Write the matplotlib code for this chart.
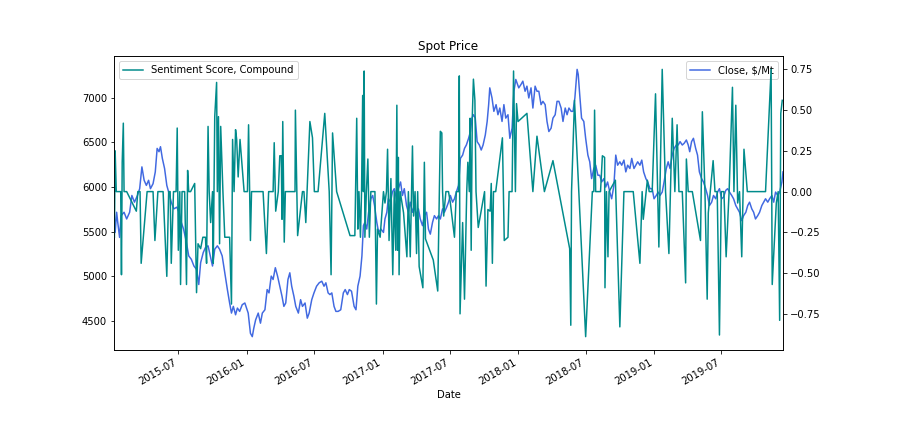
import matplotlib
matplotlib.use("Agg")
import matplotlib.pyplot as plt
import matplotlib.dates as mdates
import numpy as np

# day numbers counted from 2015-01-01
blue_day = [8, 11, 15, 18, 23, 27, 35, 42, 50, 56, 63, 71, 77, 83, 89, 95, 101, 106, 113, 119,
            124, 129, 133, 138, 144, 150, 155, 162, 169, 177, 183, 189, 195, 202, 209, 216, 223, 230, 236, 241,
            248, 254, 261, 267, 273, 279, 286, 292, 299, 306, 313, 319, 324, 329, 335, 340, 346, 353, 360,
            369, 375, 380, 384, 389, 396, 402, 407, 414, 420, 425, 431, 436, 442, 448, 454, 460, 465, 470,
            476, 481, 486, 492, 497, 504, 510, 515, 522, 528, 533, 540, 546, 553, 560, 567, 573, 578, 584,
            589, 594, 600, 605, 611, 618, 625, 630, 636, 641, 647, 654, 659, 664, 670, 675, 679, 683, 688,
            693, 699, 704, 709, 715, 720, 726,
            733, 737, 742, 746, 752, 757, 762, 768, 773, 779, 784, 789, 795, 800, 805, 811, 816, 822, 827,
            832, 838, 843, 849, 854, 859, 865, 870, 876, 881, 886, 892, 897, 903, 908, 913, 919, 924, 929,
            935, 940, 946, 951, 956, 962, 967, 971, 975, 980, 985, 991, 996, 1001, 1007, 1012, 1016, 1019,
            1025, 1030, 1036, 1041, 1046, 1052, 1057, 1062, 1068, 1073, 1079, 1084, 1089,
            1097, 1103, 1108, 1114, 1119, 1124, 1130, 1135, 1141, 1146, 1151, 1157, 1162, 1168, 1173, 1178,
            1184, 1189, 1195, 1200, 1205, 1211, 1216, 1222, 1227, 1232, 1238, 1243, 1248, 1254, 1257, 1261,
            1266, 1272, 1277, 1283, 1288, 1293, 1299, 1304, 1310, 1315, 1320, 1326, 1331, 1336, 1342, 1347,
            1353, 1358, 1363, 1369, 1374, 1380, 1385, 1390, 1396, 1401, 1407, 1412, 1417, 1423, 1428, 1433,
            1439, 1444, 1450,
            1456, 1461, 1467, 1472, 1477, 1483, 1488, 1494, 1499, 1504, 1510, 1515, 1521, 1526, 1531, 1537,
            1542, 1548, 1553, 1557, 1562, 1567, 1573, 1578, 1583, 1589, 1594, 1600, 1605, 1610, 1616, 1621,
            1627, 1632, 1637, 1643, 1648, 1654, 1659, 1664, 1670, 1675, 1681, 1686, 1691, 1697, 1702, 1708,
            1713, 1718, 1724, 1729, 1734, 1740, 1745, 1751, 1756, 1761, 1767, 1772, 1778, 1783, 1788, 1794,
            1799, 1805, 1808]
blue_close = [5754, 5490, 5716, 5603, 5434, 5678, 5716, 5641, 5716, 5904, 5829, 5904, 5980, 6224, 6074, 6017, 6074, 5980, 6036, 6168,
              6431, 6394, 6450, 6319, 6206, 6017, 5942, 5829, 5754, 5773, 5716, 5603, 5528, 5396, 5227, 5189, 5114, 5076, 4907, 5151,
              5264, 5321, 5340, 5227, 5114, 5302, 5340, 5302, 5227, 5038, 4850, 4700, 4587, 4662, 4568, 4643, 4606, 4681, 4700,
              4587, 4361, 4323, 4417, 4511, 4587, 4474, 4587, 4624, 4850, 4813, 5001, 4963, 5095, 5001, 4888, 4775, 4662, 4700,
              4963, 5038, 4888, 4775, 4662, 4587, 4737, 4662, 4700, 4530, 4587, 4737, 4813, 4888, 4926, 4944, 4888, 4926, 4813,
              4794, 4813, 4662, 4606, 4606, 4624, 4813, 4850, 4794, 4850, 4832, 4662, 4624, 4888, 5001, 5227, 5566, 5603, 5528,
              5716, 5867, 5904, 5791, 5603, 5490, 5528,
              5490, 5641, 5716, 5867, 5829, 5942, 5980, 5867, 5980, 6055, 5904, 5980, 5791, 5716, 5829, 5716, 5791, 5678, 5754,
              5641, 5566, 5678, 5716, 5528, 5471, 5603, 5678, 5641, 5678, 5641, 5754, 5716, 5773, 5829, 5904, 5829, 5867, 5942,
              6017, 6319, 6356, 6431, 6469, 6544, 6620, 6770, 6808, 6770, 6507, 6469, 6413, 6469, 6582, 6733, 6921, 7109,
              6996, 6846, 6921, 6808, 6883, 6733, 6921, 6770, 6808, 6544, 6657, 7071, 7203,
              7109, 7147, 7184, 7071, 7128, 6996, 7109, 6883, 7128, 7071, 7071, 6921, 6958, 6921, 6733, 6620,
              6657, 6770, 6808, 6958, 6958, 6883, 6733, 6883, 6808, 6883, 6846, 6846, 6996, 7316, 7260, 7034,
              6770, 6733, 6544, 6356, 6281, 6093, 6206, 6243, 6130, 6130, 6055, 6093, 5998, 6055, 5942, 5867,
              6017, 6356, 6243, 6281, 6243, 6300, 6168, 6243, 6206, 6319, 6206, 6243, 6281, 6243, 6300, 6168,
              6093, 6055, 5980,
              5980, 5867, 5904, 5942, 5904, 5942, 6055, 6206, 6281, 6206, 6356, 6431, 6469, 6469, 6507, 6469,
              6488, 6525, 6469, 6394, 6507, 6544, 6431, 6356, 6168, 6093, 6055, 5980, 5904, 5791, 5829, 5904,
              5867, 5942, 5980, 5867, 5886, 5961, 5980, 5942, 5904, 5867, 5791, 5754, 5716, 5622, 5678, 5716,
              5791, 5829, 5754, 5716, 5641, 5678, 5716, 5791, 5829, 5867, 5829, 5867, 5904, 5829, 5942, 5904,
              5942, 6055, 6168]

teal_day = [9, 11, 14, 26, 28, 30, 33, 35, 42, 68, 72, 78, 81, 97, 113, 118, 126, 140, 150, 155,
            159, 162, 168, 175, 178, 181, 185, 187, 191, 198, 203, 206, 209, 214, 225, 230, 234, 241, 247, 254,
            257, 261, 264, 268, 273, 275, 279, 284, 286, 289, 292, 295, 301, 306, 319, 324, 327, 331, 335, 338,
            342, 347, 358,
            367, 370, 375, 378, 409, 418, 424, 436, 439, 443, 450, 454, 458, 460, 462, 466, 469, 495, 496, 502,
            515, 519, 524, 535, 542, 547, 557, 575, 587, 592, 596, 607, 643, 656, 661, 664, 667, 671, 674, 677,
            679, 681, 683, 687, 691, 695, 699, 710, 714, 717, 724,
            733, 737, 741, 744, 748, 753, 758, 762, 766, 769, 771, 773, 775, 778, 787, 796, 800, 805, 811, 814,
            818, 822, 825, 829, 839, 843, 846, 867, 879, 886, 890, 892, 895, 901, 908, 913, 924, 929, 935, 937,
            939, 946, 951, 957, 960, 964, 966, 969, 972, 975, 979, 982, 988, 1005, 1009, 1014, 1020, 1023, 1026,
            1029, 1035, 1053, 1058, 1068, 1071, 1079, 1083, 1088, 1091,
            1095, 1119, 1135, 1146, 1166, 1189, 1234, 1237, 1239, 1247, 1277, 1295, 1299, 1301, 1304, 1317,
            1322, 1328, 1329, 1333, 1337, 1340, 1357, 1369, 1380, 1405, 1423, 1429, 1432, 1443, 1448,
            1456, 1465, 1474, 1483, 1492, 1501, 1510, 1517, 1523, 1528, 1537, 1546, 1548, 1553, 1564, 1586,
            1591, 1598, 1604, 1607, 1620, 1625, 1631, 1637, 1642, 1649, 1655, 1663, 1672, 1676, 1681, 1686,
            1691, 1697, 1703, 1712, 1761, 1776, 1779, 1790, 1795, 1799, 1802, 1806]
teal_score = [-0.28, 0.25, 0, 0, -0.51, 0.18, 0.42, 0, 0, -0.12, 0, 0, -0.44, 0, 0, -0.30, 0, 0, -0.52, 0,
              0, -0.44, 0, 0, 0.39, -0.36, 0, -0.57, 0, 0, -0.57, 0.13, 0, 0, 0.05, -0.62, -0.32, -0.35, -0.28, -0.28,
              -0.44, 0.40, 0, -0.19, 0, -0.44, 0.46, 0.67, 0, 0.46, -0.32, 0.40, 0, -0.28, -0.28, -0.69, 0.32, 0, 0.38, 0.32,
              0.09, 0.32, 0,
              0, 0.41, -0.30, 0, 0, -0.38, 0, 0, 0.30, -0.12, 0, 0.22, 0.22, -0.17, 0.43, -0.31, 0, 0, 0.50, -0.27,
              0, 0, -0.19, 0.43, 0.33, 0, 0, 0.48, 0, -0.51, 0.36, 0, -0.27, -0.27, 0.45, -0.23, 0, -0.28, 0, 0.59,
              0, 0.74, -0.28, 0, 0.20, -0.28, 0, 0, -0.69, -0.23, -0.28,
              0, -0.07, 0, 0.26, -0.30, 0.08, -0.51, 0, -0.36, 0.53, -0.36, 0.21, -0.51, 0, -0.13, -0.40, 0, -0.40, 0.28, -0.15,
              0, -0.38, 0, -0.46, -0.59, 0.18, -0.29, -0.42, -0.61, 0.37, 0.36, 0, -0.15, 0, 0, -0.07, -0.28, 0, 0, 0.71,
              -0.75, -0.19, -0.66, 0, 0.18, 0, 0.45, -0.36, 0.46, 0.69, 0.56, 0, -0.22, 0, -0.58, -0.11, -0.12, 0.05, -0.44,
              0, 0, 0.33, -0.30, -0.28, 0, 0, 0.74, 0, 0.54,
              0.43, 0.48, 0, 0.34, 0, 0.19, -0.35, -0.82, 0, 0.56, -0.89, 0, 0, 0.50, 0, 0,
              0.22, 0.21, -0.59, 0, -0.40, 0, 0.07, -0.83, 0, 0, -0.44, 0, -0.17, 0.07, 0,
              0, 0.60, -0.34, 0.75, 0, -0.38, 0.45, 0, 0.41, 0, 0, -0.56, 0.20, 0, 0, -0.30,
              0.49, 0, -0.66, -0.13, 0.19, 0, 0, -0.88, 0, 0, -0.40, 0, 0.64, 0, 0.53, -0.07,
              0, -0.40, 0.26, 0, 0, 0.75, -0.57, -0.07, 0, -0.79, 0.48, 0.56]

start = np.datetime64("2015-01-01")
blue_dates = start + np.array(blue_day, dtype="timedelta64[D]")
teal_dates = start + np.array(teal_day, dtype="timedelta64[D]")

fig = plt.figure(figsize=(12.5, 440 / 72), dpi=72)
ax1 = fig.add_subplot(111)
ax1.plot(blue_dates, blue_close, color="royalblue", lw=1.5, label="Close, $/Mt")
ax1.legend(loc="upper right")
ax1.set_xlabel("Date")
ax1.set_title("Spot Price")

ax2 = ax1.twinx()
ax2.plot(teal_dates, teal_score, color="darkcyan", lw=1.5, label="Sentiment Score, Compound")
ax2.legend(loc="upper left")

ax1.set_xlim(blue_dates.min(), blue_dates.max())
ax1.xaxis.set_major_locator(mdates.MonthLocator(bymonth=(1, 7)))
ax1.xaxis.set_major_formatter(mdates.DateFormatter("%Y-%m"))
fig.autofmt_xdate()

fig.subplots_adjust(left=0.1267, right=0.87, bottom=0.2045, top=0.8727)
plt.savefig("out.png", dpi=72)
